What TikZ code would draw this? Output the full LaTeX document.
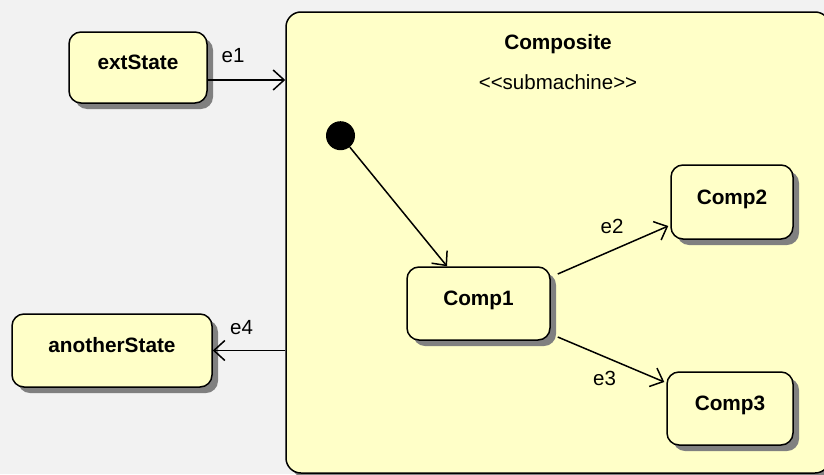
\documentclass[tikz,border=0pt]{standalone}
\usepackage{fontspec}
\setmainfont{Liberation Sans}
\usetikzlibrary{arrows.meta,shadows,calc}
\definecolor{bg}{RGB}{242,242,242}
\definecolor{statefill}{RGB}{255,255,200}
\definecolor{shadowgray}{RGB}{128,128,128}
\begin{document}
\begin{tikzpicture}[x=1pt,y=-1pt,
  statebox/.style={draw=black, line width=1.5pt, fill=statefill, rounded corners=12pt,
    drop shadow={shadow xshift=6pt,shadow yshift=-6pt,opacity=1,fill=shadowgray},
    font=\fontsize{20.8}{25}\selectfont\bfseries, text height=12pt, text depth=8pt, inner sep=0pt},
  trans/.style={line width=1.5pt, -{Straight Barb[length=11pt,width=20pt,line width=1.5pt]}},
  elabel/.style={font=\fontsize{20.5}{25}\selectfont, inner sep=0pt}]
\fill[bg] (0,0) rectangle (824,474);
\useasboundingbox (0,0) rectangle (824,474);
% composite state
\node[statebox, rounded corners=15pt, minimum width=544pt, minimum height=461pt] (comp) at (558,242.5) {};
\node[font=\fontsize{20.8}{25}\selectfont\bfseries, anchor=base, inner sep=0pt] (title) at (558,49) {Composite};
\node[elabel, anchor=base] (stereo) at (558,89) {<\kern0pt<submachine>\kern0pt>};
% states
\node[statebox, minimum width=138pt, minimum height=71pt] (ext) at (138,67.5) {extState};
\node[statebox, minimum width=200pt, minimum height=73pt] (another) at (112,350.5) {anotherState};
\node[statebox, minimum width=143pt, minimum height=73pt] (c1) at (478.5,303.5) {Comp1};
\node[statebox, minimum width=122pt, minimum height=74pt] (c2) at (732,202) {Comp2};
\node[statebox, minimum width=126pt, minimum height=73pt] (c3) at (730,408.5) {Comp3};
\node[circle, fill=black, minimum size=29pt, inner sep=0pt] (init) at (340.5,135.7) {};
% transitions
\draw[trans] ([yshift=-12.5pt]ext.east) -- ([yshift=-12.5pt]ext.east -| comp.west);
\node[elabel] (l1) at (233,56) {e1};
\draw[trans] (comp.west |- another.east) -- (another.east);
\node[elabel] (l4) at (241.5,327.5) {e4};
\draw[trans] (init) -- ([xshift=-31.5pt]c1.north);
\draw[trans] ([shift={(7,-29.5)}]c1.east) -- ([shift={(-2,24)}]c2.west);
\node[elabel] (l2) at (612,226.5) {e2};
\draw[trans] ([shift={(7,33.5)}]c1.east) -- ([shift={(-2,-26.5)}]c3.west);
\node[elabel] (l3) at (604.5,378) {e3};
\end{tikzpicture}
\end{document}
